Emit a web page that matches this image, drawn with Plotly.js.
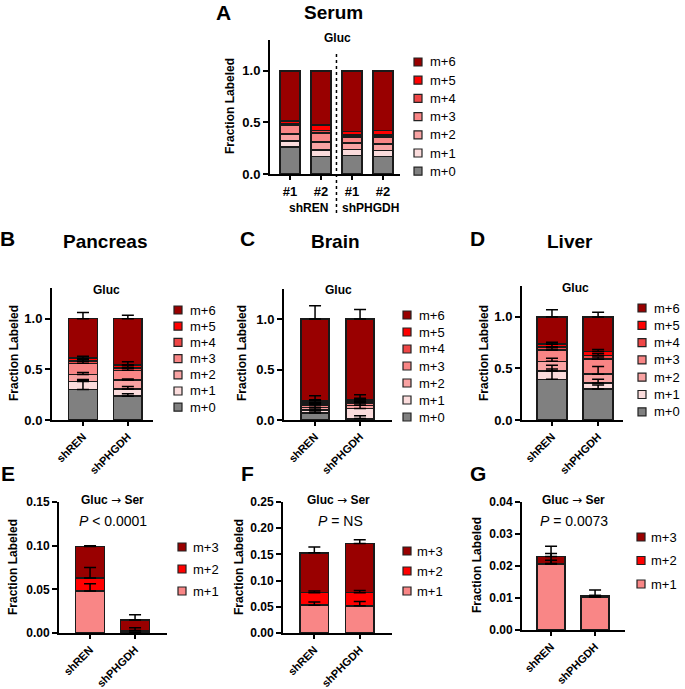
<!DOCTYPE html>
<html>
<head>
<meta charset="utf-8">
<script src="https://cdn.plot.ly/plotly-3.0.1.min.js"></script>
<style>html,body{margin:0;padding:0;background:#fff;}#chart{width:685px;height:689px;}</style>
</head>
<body>
<div id="chart"></div>
<script>
// ---------------- DATA ----------------
const isoLabels6 = ['m+0','m+1','m+2','m+3','m+4','m+5','m+6'];
const isoColors6 = ['#808080','#FBDCDC','#F9A3A3','#F98585','#EF4646','#FF0000','#990000'];
const isoLabels3 = ['m+1','m+2','m+3'];
const isoColors3 = ['#F98686','#FF0000','#990000'];

const groups = ['shREN','shPHGDH'];

// Panel A: Serum (m+0 ... m+6)
const serumCategories = ['shREN #1','shREN #2','shPHGDH #1','shPHGDH #2'];
const serumTickLabels = ['#1','#2','#1','#2'];
const serumShREN1   = [0.26, 0.06, 0.07, 0.08, 0.015, 0.03, 0.485];
const serumShREN2   = [0.17, 0.065, 0.075, 0.09, 0.02, 0.055, 0.525];
const serumShPHGDH1 = [0.18, 0.06, 0.06, 0.06, 0.02, 0.03, 0.59];
const serumShPHGDH2 = [0.17, 0.06, 0.06, 0.07, 0.02, 0.04, 0.58];

// Panel B: Pancreas
const pancreasShREN      = [0.30, 0.08, 0.07, 0.11, 0.02, 0.03, 0.39];
const pancreasShPHGDH    = [0.235, 0.07, 0.09, 0.095, 0.025, 0.03, 0.455];
const pancreasShRENErr   = [0.09, 0.02, 0.02, 0.04, 0.02, 0.02, 0.06];
const pancreasShPHGDHErr = [0.025, 0.025, 0.01, 0.02, 0.02, 0.03, 0.035];

// Panel C: Brain
const brainShREN      = [0.07, 0.03, 0.025, 0.025, 0.02, 0.02, 0.81];
const brainShPHGDH    = [0.015, 0.10, 0.03, 0.025, 0.015, 0.015, 0.80];
const brainShRENErr   = [0.02, 0.02, 0.04, 0.02, 0.03, 0.05, 0.13];
const brainShPHGDHErr = [0.028, 0.03, 0.03, 0.03, 0.03, 0.05, 0.095];

// Panel D: Liver
const liverShREN      = [0.395, 0.08, 0.095, 0.11, 0.03, 0.025, 0.265];
const liverShPHGDH    = [0.30, 0.06, 0.085, 0.145, 0.035, 0.04, 0.335];
const liverShRENErr   = [0.10, 0.055, 0.03, 0.02, 0.04, 0.02, 0.07];
const liverShPHGDHErr = [0.04, 0.035, 0.075, 0.02, 0.02, 0.02, 0.045];

// Panel E: Pancreas Gluc -> Ser (m+1, m+2, m+3)
const serPancShREN      = [0.048, 0.015, 0.036];
const serPancShPHGDH    = [0.001, 0.002, 0.012];
const serPancShRENErr   = [0.0085, 0.012, 0.001];
const serPancShPHGDHErr = [0.0, 0.003, 0.006];

// Panel F: Brain Gluc -> Ser
const serBrainShREN      = [0.053, 0.024, 0.076];
const serBrainShPHGDH    = [0.052, 0.025, 0.094];
const serBrainShRENErr   = [0.006, 0.003, 0.011];
const serBrainShPHGDHErr = [0.008, 0.004, 0.007];

// Panel G: Liver Gluc -> Ser
const serLiverShREN      = [0.0206, 0.0002, 0.0022];
const serLiverShPHGDH    = [0.0103, 0.0001, 0.0004];
const serLiverShRENErr   = [0.0033, 0.001, 0.0032];
const serLiverShPHGDHErr = [0.0005, 0.0, 0.0017];

// ---------------- BUILD ----------------
const W = 685, H = 689;
const FONT = 'Liberation Sans, Arial, sans-serif';
const X = p => p / W;
const Y = p => 1 - p / H;

const traces = [];
const layout = {
  width: W, height: H,
  margin: {l: 0, r: 0, t: 0, b: 0},
  paper_bgcolor: '#fff', plot_bgcolor: 'rgba(0,0,0,0)',
  barmode: 'stack', showlegend: false,
  font: {family: FONT, color: '#000'},
  annotations: [], shapes: []
};

function stackPanel(n, cats, bars, errs, labels, colors, barWidth) {
  const xa = n === 1 ? 'x' : 'x' + n, ya = n === 1 ? 'y' : 'y' + n;
  labels.forEach((lab, k) => {
    traces.push({
      type: 'bar', name: lab, x: cats, y: bars.map(b => b[k]),
      xaxis: xa, yaxis: ya, width: barWidth,
      marker: {color: colors[k], line: {color: '#1a1a1a', width: 1.5}},
      showlegend: false, hoverinfo: 'skip'
    });
  });
  if (errs) {
    labels.forEach((lab, k) => {
      const tops = bars.map(b => b.slice(0, k + 1).reduce((a, c) => a + c, 0));
      traces.push({
        type: 'scatter', mode: 'markers', x: cats, y: tops,
        xaxis: xa, yaxis: ya,
        marker: {size: 1, color: 'rgba(0,0,0,0)'},
        error_y: {type: 'data', symmetric: false, array: errs.map(e => e[k]),
                  arrayminus: cats.map(() => 0), color: '#000', thickness: 1.5, width: 6},
        showlegend: false, hoverinfo: 'skip'
      });
    });
  }
}

function axes(n, xDom, yDom, xRange, yRange, dtick, fmt, tickangle, ySize, ticktext) {
  const sx = n === 1 ? 'xaxis' : 'xaxis' + n, sy = n === 1 ? 'yaxis' : 'yaxis' + n;
  const yid = n === 1 ? 'y' : 'y' + n, xid = n === 1 ? 'x' : 'x' + n;
  const common = {showline: true, linewidth: 2, linecolor: '#000', ticks: 'outside',
    ticklen: 5, tickwidth: 2, tickcolor: '#000', showgrid: false, zeroline: false,
    fixedrange: true};
  layout[sx] = Object.assign({}, common, {
    domain: [X(xDom[0]), X(xDom[1])], range: xRange, type: 'category',
    anchor: yid, tickangle: tickangle, ticklen: 4,
    tickfont: {family: FONT, size: tickangle ? 11 : 13, color: '#000', weight: 'bold'}
  });
  if (ticktext) { layout[sx].tickvals = ticktext.vals; layout[sx].ticktext = ticktext.text; }
  layout[sy] = Object.assign({}, common, {
    domain: [Y(yDom[0]), Y(yDom[1])], range: yRange, dtick: dtick, tick0: 0,
    tickformat: fmt, anchor: xid,
    tickfont: {family: FONT, size: ySize, color: '#000', weight: 'bold'}
  });
}

function ann(text, x, y, size, bold, extra) {
  layout.annotations.push(Object.assign({
    text: text, x: X(x), y: Y(y), xref: 'paper', yref: 'paper', showarrow: false,
    xanchor: 'center', yanchor: 'middle',
    font: {family: FONT, size: size, color: '#000', weight: bold ? 'bold' : 'normal'}
  }, extra || {}));
}

function legend(labels, colors, sqX, txX, y0, dy) {
  for (let i = labels.length - 1, j = 0; i >= 0; i--, j++) {
    const yy = y0 + j * dy;
    layout.shapes.push({type: 'rect', xref: 'paper', yref: 'paper',
      x0: X(sqX - 4), x1: X(sqX + 4), y0: Y(yy + 4), y1: Y(yy - 4),
      fillcolor: colors[i], line: {color: '#222', width: 1.2}});
    ann(labels[i], txX, yy, 13, false, {xanchor: 'left'});
  }
}

const ARROW = '<span style="font-family:DejaVu Sans;font-weight:normal">\u2192</span>';

// Panel A
stackPanel(1, serumCategories, [serumShREN1, serumShREN2, serumShPHGDH1, serumShPHGDH2], null, isoLabels6, isoColors6, 0.65);
axes(1, [270, 400], [174, 40], [-0.645, 3.55], [0, 1.3], 0.5, '.1f', 0, 13, {vals: serumCategories, text: serumTickLabels});
layout.shapes.push({type: 'line', xref: 'x', yref: 'paper', x0: 1.5, x1: 1.5, y0: Y(213), y1: Y(53),
  line: {color: '#000', width: 1.5, dash: 'dot'}});
ann('A', 223, 13, 21, true);
ann('Serum', 333, 13, 19, true);
ann('Gluc', 337, 38, 12, true);
ann('Fraction Labeled', 230, 106, 12, true, {textangle: -90});
ann('shREN', 308, 208, 12, true);
ann('shPHGDH', 370, 208, 12, true);
legend(isoLabels6, isoColors6, 418, 428, 62, 18.2);

// Panel B
stackPanel(2, groups, [pancreasShREN, pancreasShPHGDH], [pancreasShRENErr, pancreasShPHGDHErr], isoLabels6, isoColors6, 0.64);
axes(2, [52, 153], [420, 288.3], [-0.69, 1.56], [0, 1.3], 0.5, '.1f', -45, 13);
ann('B', 8, 238, 21, true);
ann('Pancreas', 105, 241, 19, true);
ann('Gluc', 106, 290, 12, true);
ann('Fraction Labeled', 14, 353, 12, true, {textangle: -90});
legend(isoLabels6, isoColors6, 178, 188, 310, 16.2);

// Panel C
stackPanel(3, groups, [brainShREN, brainShPHGDH], [brainShRENErr, brainShPHGDHErr], isoLabels6, isoColors6, 0.62);
axes(3, [284, 392], [420, 288.7], [-0.69, 1.71], [0, 1.3], 0.5, '.1f', -45, 13);
ann('C', 247, 238, 21, true);
ann('Brain', 335, 241, 19, true);
ann('Gluc', 338, 290, 12, true);
ann('Fraction Labeled', 242, 353, 12, true, {textangle: -90});
legend(isoLabels6, isoColors6, 407, 417, 315, 17);

// Panel D
stackPanel(4, groups, [liverShREN, liverShPHGDH], [liverShRENErr, liverShPHGDHErr], isoLabels6, isoColors6, 0.65);
axes(4, [522, 623], [420, 286], [-0.65, 1.54], [0, 1.3], 0.5, '.1f', -45, 13);
ann('D', 478, 238, 21, true);
ann('Liver', 570, 241, 19, true);
ann('Gluc', 575, 288, 12, true);
ann('Fraction Labeled', 484, 353, 12, true, {textangle: -90});
legend(isoLabels6, isoColors6, 642, 652, 308, 17.3);

// Panel E
stackPanel(5, groups, [serPancShREN, serPancShPHGDH], [serPancShRENErr, serPancShPHGDHErr], isoLabels3, isoColors3, 0.64);
axes(5, [59, 167], [633, 502], [-0.69, 1.71], [0, 0.15], 0.05, '.2f', -45, 12);
ann('E', 8, 473, 21, true);
ann('Gluc ' + ARROW + ' Ser', 113, 500, 12, true);
ann('<i>P</i> &lt; 0.0001', 113, 521, 14, false);
ann('Fraction Labeled', 13, 567, 12, true, {textangle: -90});
legend(isoLabels3, isoColors3, 182, 191, 547, 22);

// Panel F
stackPanel(6, groups, [serBrainShREN, serBrainShPHGDH], [serBrainShRENErr, serBrainShPHGDHErr], isoLabels3, isoColors3, 0.63);
axes(6, [283, 392], [633, 502], [-0.69, 1.71], [0, 0.25], 0.05, '.2f', -45, 12);
ann('F', 247, 473, 21, true);
ann('Gluc ' + ARROW + ' Ser', 338, 500, 12, true);
ann('<i>P</i> = NS', 340, 521, 14, false);
ann('Fraction Labeled', 239, 567, 12, true, {textangle: -90});
legend(isoLabels3, isoColors3, 407, 415, 551, 20);

// Panel G
stackPanel(7, groups, [serLiverShREN, serLiverShPHGDH], [serLiverShRENErr, serLiverShPHGDHErr], isoLabels3, isoColors3, 0.64);
axes(7, [522, 625], [630, 502], [-0.66, 1.68], [0, 0.04], 0.01, '.2f', -45, 12);
ann('G', 478, 473, 21, true);
ann('Gluc ' + ARROW + ' Ser', 573, 500, 12, true);
ann('<i>P</i> = 0.0073', 574, 521, 14, false);
ann('Fraction Labeled', 477, 565, 12, true, {textangle: -90});
legend(isoLabels3, isoColors3, 641, 649, 537, 23.5);

Plotly.newPlot('chart', traces, layout, {staticPlot: true, displayModeBar: false});
</script>
</body>
</html>
